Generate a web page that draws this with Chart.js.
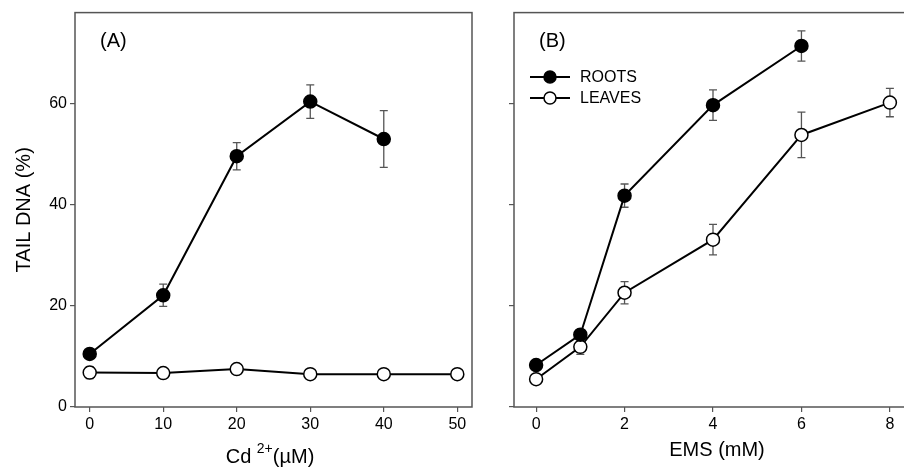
<!DOCTYPE html>
<html>
<head>
<meta charset="utf-8">
<script src="https://cdn.jsdelivr.net/npm/chart.js@4/dist/chart.umd.min.js"></script>
<style>
  html, body { margin: 0; padding: 0; background: #fff; overflow: hidden; width: 904px; height: 470px; }
  #left { position: absolute; left: 0; top: 0; }
  #right { position: absolute; left: 480px; top: 0; }
</style>
</head>
<body>
<canvas id="left" width="480" height="470"></canvas>
<canvas id="right" width="440" height="470"></canvas>
<script>
// panel A: cadmium
const cdDose = [0, 10, 20, 30, 40, 50];
const cdRoots = [10.5, 22.1, 49.6, 60.4, 53.0];
const cdRootsErr = [0.6, 2.2, 2.7, 3.3, 5.6];
const cdLeaves = [6.8, 6.7, 7.5, 6.5, 6.5, 6.5];
const cdLeavesErr = [1.2, 0.5, 0.9, 0.4, 0.4, 0.5];

// panel B: EMS
const emsDose = [0, 1, 2, 4, 6, 8];
const emsRoots = [8.3, 14.3, 41.8, 59.7, 71.4];
const emsRootsErr = [0.6, 1.0, 2.3, 3.0, 3.0];
const emsLeaves = [5.5, 11.9, 22.6, 33.1, 53.8, 60.2];
const emsLeavesErr = [0.5, 1.5, 2.2, 3.0, 4.5, 2.8];

const cdTicks = [0, 10, 20, 30, 40, 50];
const emsTicks = [0, 2, 4, 6, 8];
const yTicks = [0, 20, 40, 60];

const FONT = "'Liberation Sans', Arial, Helvetica, sans-serif";
const AXIS = '#555';

function points(xs, ys) {
  return ys.map((y, i) => ({ x: xs[i], y }));
}

function makeSets(xs, roots, rootsErr, leaves, leavesErr) {
  return [
    {
      label: 'ROOTS',
      data: points(xs, roots),
      errors: rootsErr,
      borderColor: '#000',
      borderWidth: 2,
      pointRadius: 6.5,
      pointBackgroundColor: '#000',
      pointBorderColor: '#000',
      pointBorderWidth: 1.5,
      tension: 0,
      clip: false
    },
    {
      label: 'LEAVES',
      data: points(xs, leaves),
      errors: leavesErr,
      borderColor: '#000',
      borderWidth: 2,
      pointRadius: 6.5,
      pointBackgroundColor: '#fff',
      pointBorderColor: '#000',
      pointBorderWidth: 1.5,
      tension: 0,
      clip: false
    }
  ];
}

const errorBars = {
  id: 'errorBars',
  beforeDatasetsDraw(chart) {
    const { ctx, scales: { x, y } } = chart;
    ctx.save();
    ctx.strokeStyle = AXIS;
    ctx.lineWidth = 1.3;
    chart.data.datasets.forEach(ds => {
      ds.data.forEach((p, i) => {
        const e = ds.errors[i];
        const px = x.getPixelForValue(p.x);
        const top = y.getPixelForValue(p.y + e);
        const bot = y.getPixelForValue(p.y - e);
        ctx.beginPath();
        ctx.moveTo(px, top); ctx.lineTo(px, bot);
        ctx.moveTo(px - 4, top); ctx.lineTo(px + 4, top);
        ctx.moveTo(px - 4, bot); ctx.lineTo(px + 4, bot);
        ctx.stroke();
      });
    });
    ctx.restore();
  }
};

// frame, panel letter and x title (with superscript) for each panel
const frame = {
  id: 'frame',
  afterDraw(chart, args, opts) {
    const { ctx, chartArea: a } = chart;
    ctx.save();
    ctx.strokeStyle = AXIS;
    ctx.lineWidth = 1.5;
    ctx.strokeRect(a.left, a.top, a.right - a.left, a.bottom - a.top);
    ctx.fillStyle = '#000';
    ctx.textBaseline = 'middle';
    ctx.font = '20px ' + FONT;
    ctx.fillText(opts.label, a.left + 25, 41);

    // x title: [main, superscript, rest]
    const big = '20px ' + FONT, small = '14px ' + FONT;
    const [t1, sup, t2] = opts.xTitle;
    ctx.font = big; const w1 = ctx.measureText(t1).width;
    const w3 = ctx.measureText(t2).width;
    ctx.font = small; const w2 = sup ? ctx.measureText(sup).width : 0;
    let x0 = opts.titleX - (w1 + w2 + w3) / 2;
    const yy = opts.titleY;
    ctx.textAlign = 'left';
    ctx.font = big; ctx.fillText(t1, x0, yy); x0 += w1;
    if (sup) { ctx.font = small; ctx.fillText(sup, x0, yy - 8); x0 += w2; }
    ctx.font = big; ctx.fillText(t2, x0, yy);
    ctx.restore();
  }
};

const legendBox = {
  id: 'legendBox',
  afterDraw(chart, args, opts) {
    if (!opts.show) return;
    const { ctx, chartArea: a } = chart;
    ctx.save();
    chart.data.datasets.forEach((ds, i) => {
      const yy = 77 + i * 21;
      const x0 = a.left + 16;
      ctx.strokeStyle = '#000';
      ctx.lineWidth = 2;
      ctx.beginPath();
      ctx.moveTo(x0, yy); ctx.lineTo(x0 + 40, yy);
      ctx.stroke();
      ctx.beginPath();
      ctx.arc(x0 + 20, yy, 6, 0, Math.PI * 2);
      ctx.fillStyle = ds.pointBackgroundColor;
      ctx.fill();
      ctx.lineWidth = 1.5;
      ctx.stroke();
      ctx.fillStyle = '#000';
      ctx.font = '16px ' + FONT;
      ctx.textBaseline = 'middle';
      ctx.fillText(ds.label, x0 + 50, yy + 1);
    });
    ctx.restore();
  }
};

function makeChart(id, cfg) {
  return new Chart(document.getElementById(id), {
    type: 'line',
    data: { datasets: cfg.sets },
    options: {
      responsive: false,
      animation: false,
      layout: { padding: { top: 7, right: cfg.padRight, left: 0, bottom: 0 } },
      plugins: {
        legend: { display: false },
        tooltip: { enabled: false },
        frame: { label: cfg.label, xTitle: cfg.xTitle, titleX: cfg.titleX, titleY: cfg.titleY },
        legendBox: { show: cfg.legend }
      },
      scales: {
        x: {
          type: 'linear',
          min: cfg.xMin,
          max: cfg.xMax,
          afterBuildTicks: s => { s.ticks = cfg.xTicks.map(v => ({ value: v })); },
          afterFit: s => { s.height = 63; },
          border: { display: false },
          grid: { drawOnChartArea: false, drawTicks: true, tickLength: 5, color: AXIS, lineWidth: 1.2 },
          ticks: { color: '#000', font: { family: FONT, size: 16 }, padding: 3, maxRotation: 0 },
          title: { display: false }
        },
        y: {
          min: 0,
          max: 78,
          afterBuildTicks: s => { s.ticks = yTicks.map(v => ({ value: v })); },
          afterFit: s => { s.width = cfg.yWidth; },
          border: { display: false },
          grid: { drawOnChartArea: false, drawTicks: true, tickLength: 5, color: AXIS, lineWidth: 1.2 },
          ticks: {
            color: '#000',
            font: { family: FONT, size: 16 },
            padding: 3,
            callback: v => cfg.yLabels ? v : ''
          },
          title: {
            display: cfg.yLabels,
            text: 'TAIL DNA (%)',
            color: '#000',
            font: { family: FONT, size: 20 },
            padding: { top: 12, bottom: 0 }
          }
        }
      }
    },
    plugins: [errorBars, frame, legendBox]
  });
}

makeChart('left', {
  sets: makeSets(cdDose, cdRoots, cdRootsErr, cdLeaves, cdLeavesErr),
  xMin: -2, xMax: 52, xTicks: cdTicks,
  xTitle: ['Cd ', '2+', '(\u00B5M)'], titleX: 270, titleY: 457,
  yWidth: 75, yLabels: true, padRight: 5,
  label: '(A)', legend: false
});

makeChart('right', {
  sets: makeSets(emsDose, emsRoots, emsRootsErr, emsLeaves, emsLeavesErr),
  xMin: -0.5, xMax: 8.5, xTicks: emsTicks,
  xTitle: ['EMS (mM)', '', ''], titleX: 237, titleY: 450,
  yWidth: 34, yLabels: false, padRight: 5.5,
  label: '(B)', legend: true
});
</script>
</body>
</html>
